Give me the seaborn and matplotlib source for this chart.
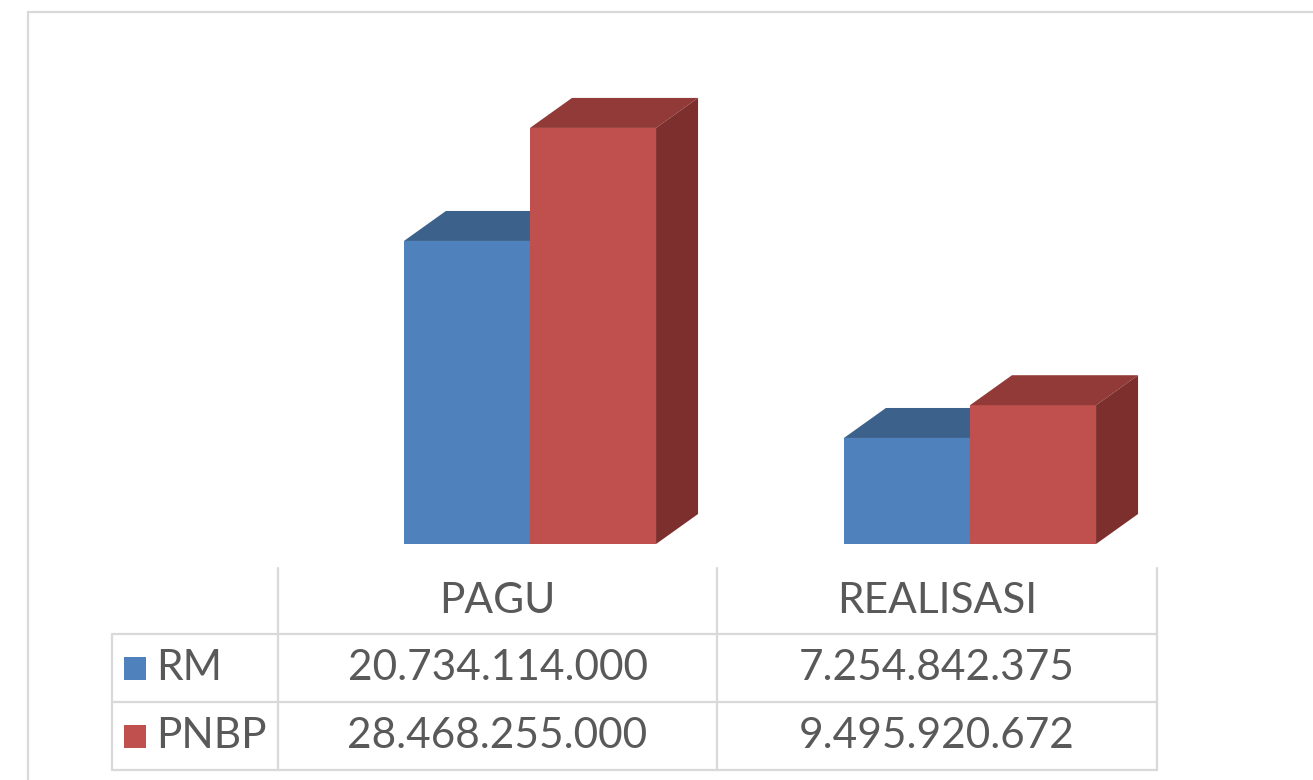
import numpy as np
import pandas as pd
import matplotlib
matplotlib.use("Agg")
from matplotlib import pyplot as plt
from matplotlib.patches import Polygon, Rectangle
from matplotlib.lines import Line2D
import seaborn as sns

# data
categories = ["PAGU", "REALISASI"]
series = ["RM", "PNBP"]
rm_values = [20734114000, 7254842375]
pnbp_values = [28468255000, 9495920672]

# colours (front, top, side)
front_colors = {"RM": "#4F81BD", "PNBP": "#C0504D"}
top_colors = {"RM": "#3C628C", "PNBP": "#923A38"}
side_colors = {"RM": "#2F4E74", "PNBP": "#7C2F2D"}
grid_color = "#D9D9D9"
text_color = "#595959"

W, H = 1313, 780

df = pd.DataFrame({
    "Kategori": categories * 2,
    "Sumber": ["RM"] * 2 + ["PNBP"] * 2,
    "Nilai": rm_values + pnbp_values,
})

sns.set_style("white")
plt.rcParams["font.family"] = ["Lato", "DejaVu Sans"]

fig = plt.figure(figsize=(W / 100, H / 100), dpi=100)


def fx(x):
    return x / W


def fy(y):
    return 1 - y / H


# plot area: columns 278..1157 px, baseline at 544 px
ax_left, ax_right, ax_top, ax_base = 278, 1157, 12, 544
ax = fig.add_axes([fx(ax_left), fy(ax_base), (ax_right - ax_left) / W, (ax_base - ax_top) / H])

sns.barplot(data=df, x="Kategori", y="Nilai", hue="Sumber", hue_order=series,
            palette=front_colors, width=0.573, saturation=1, linewidth=0,
            legend=False, ax=ax)

ax.set_xlim(-0.5727, 1.425)
ax.set_ylim(0, 36.4e9)
ax.set_axis_off()

# 3D depth of the bars, in pixels -> data units
inv = ax.transData.inverted()
p0 = inv.transform((0, 0))
p1 = inv.transform((42, 30))
dx, dy = p1 - p0

for i, (name, cont) in enumerate(zip(series, ax.containers)):
    for bar in cont:
        bar.set_zorder(2 + i)
        x0 = bar.get_x()
        x1 = x0 + bar.get_width()
        h = bar.get_height()
        top = Polygon([(x0, h), (x0 + dx, h + dy), (x1 + dx, h + dy), (x1, h)],
                      closed=True, facecolor=top_colors[name], edgecolor="none",
                      zorder=2 + i, clip_on=False)
        side = Polygon([(x1, 0), (x1 + dx, dy), (x1 + dx, h + dy), (x1, h)],
                       closed=True, facecolor=side_colors[name], edgecolor="none",
                       zorder=2 + i, clip_on=False)
        ax.add_patch(top)
        ax.add_patch(side)

# outer chart frame (cut by the image edge)
fig.add_artist(Rectangle((fx(28), fy(H + 30)), (W + 30 - 28) / W, (H + 30 - 12) / H,
                         transform=fig.transFigure, fill=False,
                         edgecolor=grid_color, linewidth=1.6))

# data table
def hline(y, x0, x1):
    fig.add_artist(Line2D([fx(x0), fx(x1)], [fy(y), fy(y)], transform=fig.transFigure,
                          color=grid_color, linewidth=1.6))


def vline(x, y0, y1):
    fig.add_artist(Line2D([fx(x), fx(x)], [fy(y0), fy(y1)], transform=fig.transFigure,
                          color=grid_color, linewidth=1.6))


col_edges = [278, 717, 1157]
row_edges = [568, 634, 702, 770]
for x in col_edges:
    vline(x, row_edges[0], row_edges[-1])
vline(112, row_edges[1], row_edges[-1])
for y in row_edges[1:]:
    hline(y, 112, 1157)

col_centers = [(col_edges[0] + col_edges[1]) / 2, (col_edges[1] + col_edges[2]) / 2]
row_centers = [(row_edges[k] + row_edges[k + 1]) / 2 for k in range(3)]

fs = 30.5
for cx, cat in zip(col_centers, categories):
    fig.text(fx(cx), fy(row_centers[0]), cat, ha="center", va="center",
             fontsize=fs, color=text_color)

for r, (name, vals) in enumerate(zip(series, [rm_values, pnbp_values])):
    cy = row_centers[r + 1]
    fig.add_artist(Rectangle((fx(124), fy(cy + 12)), 22 / W, 23 / H,
                             transform=fig.transFigure, facecolor=front_colors[name],
                             edgecolor="none"))
    fig.text(fx(156), fy(cy), name, ha="left", va="center", fontsize=fs, color=text_color)
    for cx, v in zip(col_centers, vals):
        fig.text(fx(cx), fy(cy), f"{v:,}".replace(",", "."), ha="center", va="center",
                 fontsize=fs, color=text_color)

plt.savefig("out.png", dpi=100)
